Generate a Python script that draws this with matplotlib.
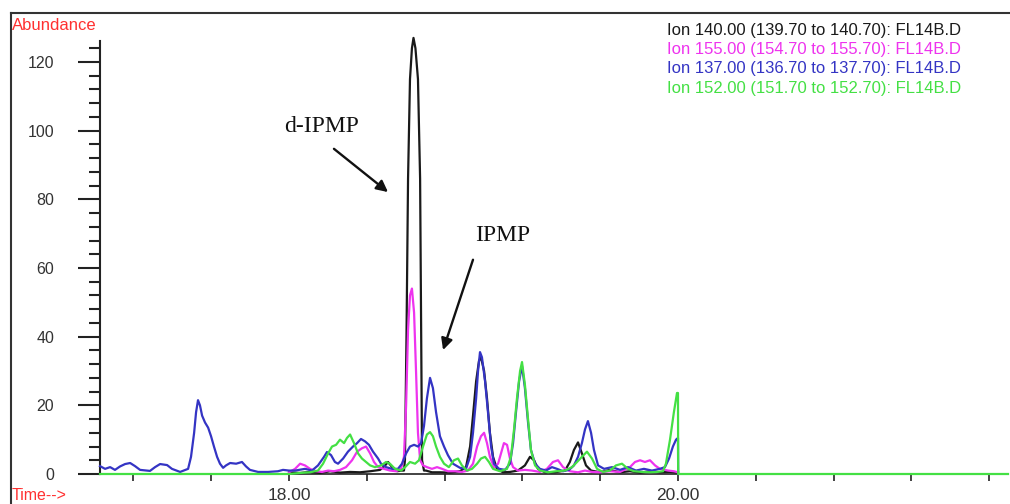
import matplotlib.pyplot as plt
from matplotlib.lines import Line2D
from matplotlib.ticker import MultipleLocator, FixedLocator

# Cromatograma de iones extraidos (FL14B.D), tiempos en minutos

# Ion 137 (azul) - empieza antes de 18 min
t137 = [17.028, 17.054, 17.080, 17.105, 17.131, 17.157, 17.183, 17.208, 17.234, 17.285,
        17.311, 17.337, 17.373, 17.398, 17.440, 17.481, 17.496, 17.512, 17.522, 17.532,
        17.542, 17.553, 17.568, 17.584, 17.599, 17.614, 17.630, 17.645, 17.661, 17.676,
        17.697, 17.728, 17.758, 17.779, 17.799, 17.841, 17.892, 17.943, 17.969, 18.000,
        18.031, 18.082, 18.118, 18.149, 18.180, 18.195, 18.216, 18.236, 18.252, 18.278,
        18.303, 18.329, 18.350, 18.370, 18.391, 18.411, 18.432, 18.458, 18.473, 18.499,
        18.530, 18.560, 18.581, 18.602, 18.622, 18.643, 18.663, 18.679, 18.694, 18.709,
        18.725, 18.740, 18.756, 18.776, 18.797, 18.817, 18.843, 18.879, 18.910, 18.931,
        18.946, 18.962, 18.972, 18.982, 18.992, 19.008, 19.023, 19.039, 19.054, 19.080,
        19.111, 19.136, 19.152, 19.167, 19.183, 19.198, 19.213, 19.229, 19.244, 19.265,
        19.290, 19.321, 19.352, 19.378, 19.409, 19.440, 19.465, 19.486, 19.506, 19.522,
        19.537, 19.553, 19.568, 19.589, 19.620, 19.661, 19.702, 19.743, 19.784, 19.825,
        19.866, 19.907, 19.933, 19.954, 19.974, 19.990, 20.000, 20.001]
i137 = [2.3, 1.5, 2.0, 1.2, 2.2, 2.9, 3.2, 2.3, 1.2, 0.9,
        2.0, 2.9, 2.6, 1.5, 0.6, 1.5, 5.0, 12.0, 18.0, 21.5,
        20.0, 17.0, 15.0, 13.5, 11.0, 8.0, 5.0, 3.0, 1.8, 2.5,
        3.2, 3.0, 3.5, 2.2, 1.2, 0.6, 0.6, 0.8, 1.2, 1.0,
        1.0, 1.5, 1.0, 2.5, 5.0, 6.4, 5.5, 3.5, 3.0, 4.5,
        6.5, 8.0, 9.0, 10.2, 9.5, 8.5, 6.5, 4.5, 3.0, 2.0,
        1.5, 1.5, 3.0, 6.0, 8.0, 8.5, 8.0, 9.0, 14.0, 22.0,
        28.0, 25.0, 18.0, 11.0, 8.0, 5.5, 3.0, 1.8, 1.5, 5.0,
        12.0, 22.0, 30.0, 35.5, 34.0, 27.0, 18.0, 8.0, 3.0, 1.5,
        1.2, 3.0, 9.0, 18.0, 27.0, 31.5, 25.0, 15.0, 7.0, 3.0,
        1.5, 1.0, 2.0, 1.5, 0.8, 1.2, 2.5, 5.0, 9.0, 13.0,
        15.4, 12.0, 7.0, 2.5, 1.5, 2.0, 1.2, 2.0, 1.0, 1.5,
        1.0, 1.5, 2.0, 4.5, 8.0, 10.0, 10.5, 0.0]

# Ion 140 (negro) - d-IPMP
t140 = [18.000, 18.057, 18.108, 18.159, 18.211, 18.262, 18.314, 18.365, 18.417, 18.468,
        18.494, 18.509, 18.530, 18.555, 18.581, 18.591, 18.596, 18.604, 18.612, 18.622,
        18.632, 18.640, 18.650, 18.663, 18.674, 18.679, 18.684, 18.694, 18.704, 18.735,
        18.776, 18.828, 18.879, 18.910, 18.931, 18.946, 18.962, 18.977, 18.987, 19.003,
        19.018, 19.033, 19.049, 19.069, 19.100, 19.136, 19.177, 19.213, 19.239, 19.260,
        19.280, 19.316, 19.368, 19.419, 19.444, 19.465, 19.486, 19.506, 19.527, 19.553,
        19.599, 19.650, 19.702, 19.753, 19.805, 19.856, 19.907, 19.959, 20.000]
i140 = [0.5, 0.3, 0.6, 0.3, 0.8, 0.4, 0.6, 0.5, 0.8, 1.2,
        2.5, 3.5, 2.0, 0.8, 1.0, 1.0, 4.0, 40.0, 86.0, 115.0,
        124.0, 127.0, 124.0, 115.0, 86.0, 45.0, 4.0, 1.0, 1.0, 0.5,
        0.5, 0.4, 0.8, 2.0, 8.0, 17.0, 27.0, 33.0, 34.0, 30.0,
        22.0, 12.0, 5.0, 1.5, 0.5, 0.6, 1.0, 2.5, 5.0, 4.0,
        1.5, 0.5, 0.5, 1.0, 3.5, 7.0, 9.2, 6.0, 2.5, 1.0,
        0.5, 1.2, 0.5, 0.8, 0.4, 0.8, 0.5, 0.6, 0.4]

# Ion 155 (magenta)
t155 = [18.000, 18.031, 18.057, 18.082, 18.108, 18.139, 18.170, 18.201, 18.231, 18.262,
        18.293, 18.324, 18.350, 18.375, 18.396, 18.417, 18.437, 18.458, 18.488, 18.519,
        18.550, 18.576, 18.591, 18.602, 18.612, 18.622, 18.632, 18.643, 18.653, 18.663,
        18.674, 18.689, 18.709, 18.735, 18.761, 18.787, 18.817, 18.853, 18.889, 18.920,
        18.946, 18.967, 18.987, 19.003, 19.018, 19.033, 19.054, 19.075, 19.090, 19.105,
        19.121, 19.136, 19.152, 19.177, 19.213, 19.249, 19.290, 19.326, 19.357, 19.383,
        19.409, 19.444, 19.486, 19.522, 19.558, 19.599, 19.650, 19.702, 19.753, 19.779,
        19.805, 19.830, 19.856, 19.882, 19.907, 19.949, 19.979, 20.000]
i155 = [0.5, 1.5, 3.0, 2.5, 1.5, 0.8, 0.6, 1.0, 0.8, 1.2,
        2.0, 4.0, 6.5, 7.5, 8.0, 6.0, 3.5, 2.0, 1.5, 1.0,
        0.8, 1.5, 5.0, 20.0, 42.0, 52.0, 54.0, 47.0, 30.0, 12.0,
        4.0, 2.5, 2.0, 1.5, 2.0, 1.5, 0.8, 0.8, 0.6, 1.0,
        3.0, 8.0, 11.0, 12.0, 9.0, 5.0, 2.0, 3.0, 6.0, 9.0,
        8.5, 4.5, 2.0, 1.0, 1.2, 1.0, 0.6, 1.5, 3.5, 4.0,
        2.0, 0.8, 0.5, 1.0, 0.6, 0.5, 0.8, 0.6, 2.0, 3.5,
        4.0, 3.5, 4.0, 2.5, 1.5, 1.0, 0.8, 0.5]

# Ion 152 (verde) - IPMP, linea base en cero fuera de 18-20 min
t152 = [17.028, 18.000, 18.057, 18.108, 18.149, 18.175, 18.201, 18.221, 18.242, 18.262,
        18.283, 18.298, 18.314, 18.334, 18.355, 18.375, 18.396, 18.417, 18.442, 18.473,
        18.499, 18.519, 18.545, 18.576, 18.597, 18.622, 18.648, 18.668, 18.689, 18.709,
        18.725, 18.740, 18.756, 18.776, 18.797, 18.822, 18.848, 18.869, 18.889, 18.915,
        18.941, 18.967, 18.987, 19.008, 19.028, 19.049, 19.085, 19.121, 19.141, 19.157,
        19.172, 19.188, 19.198, 19.213, 19.229, 19.244, 19.265, 19.290, 19.332, 19.373,
        19.419, 19.455, 19.481, 19.506, 19.532, 19.558, 19.584, 19.614, 19.650, 19.681,
        19.712, 19.743, 19.774, 19.815, 19.856, 19.892, 19.923, 19.938, 19.959, 19.979,
        19.995, 20.000, 20.001, 21.697]
i152 = [0.0, 0.0, 0.3, 0.5, 1.0, 3.0, 6.0, 8.0, 8.5, 10.0,
        9.0, 10.5, 11.5, 9.0, 6.0, 4.5, 3.5, 2.5, 2.0, 2.5,
        3.5, 3.0, 1.5, 1.0, 2.0, 3.5, 3.0, 4.0, 8.0, 11.5,
        12.2, 11.0, 8.0, 5.0, 3.0, 2.0, 4.0, 4.5, 2.5, 1.0,
        1.5, 3.0, 4.5, 5.0, 3.5, 1.5, 0.8, 1.5, 5.0, 13.0,
        22.0, 30.0, 32.6, 26.0, 16.0, 7.0, 2.5, 1.0, 0.5, 0.8,
        1.0, 2.0, 3.5, 5.0, 6.5, 4.5, 1.5, 0.6, 1.0, 2.5,
        3.0, 1.5, 0.8, 0.6, 0.5, 0.6, 0.8, 3.0, 10.0, 18.0,
        23.6, 23.6, 0.0, 0.0]

leyenda = ['Ion 140.00 (139.70 to 140.70): FL14B.D',
           'Ion 155.00 (154.70 to 155.70): FL14B.D',
           'Ion 137.00 (136.70 to 137.70): FL14B.D',
           'Ion 152.00 (151.70 to 152.70): FL14B.D']
colores = ['#1a1a1a', '#ee33ee', '#3434c4', '#44e044']

W, H = 1010, 504
fig = plt.figure(figsize=(W / 100, H / 100), dpi=100)
plt.rcParams['font.family'] = ['Liberation Sans', 'DejaVu Sans']

# ejes en pixeles: x 100..1008, y 41..474
ax = fig.add_axes([100 / W, 1 - 474 / H, 908 / W, (474 - 41) / H])
ax.set_xlim(17.028, 21.697)
ax.set_ylim(0, 126.1)

# trazas por encima de los ejes para que la linea base verde quede visible
for t, i, c in [(t140, i140, colores[0]), (t155, i155, colores[1]),
                (t137, i137, colores[2]), (t152, i152, colores[3])]:
    ax.plot(t, i, color=c, lw=1.6, clip_on=False, solid_joinstyle='round',
            zorder=3)

for s in ['top', 'right']:
    ax.spines[s].set_visible(False)
ax.spines['left'].set_color('#222222')
ax.spines['left'].set_linewidth(1.5)
ax.spines['bottom'].set_color('#222222')
ax.spines['bottom'].set_linewidth(1.2)

ax.yaxis.set_major_locator(MultipleLocator(20))
ax.yaxis.set_minor_locator(MultipleLocator(4))
ax.tick_params(axis='y', which='major', length=16, width=1.5, color='#222222',
               labelsize=11.5, labelcolor='#333333', pad=17)
ax.tick_params(axis='y', which='minor', length=8, width=1.5, color='#222222')

ax.xaxis.set_major_locator(FixedLocator([18.0, 20.0]))
ax.xaxis.set_minor_locator(FixedLocator([17.2, 17.6, 18.4, 18.8, 19.2, 19.6,
                                         20.4, 20.8, 21.2, 21.6]))
ax.xaxis.set_major_formatter(lambda v, p: f'{v:.2f}')
ax.tick_params(axis='x', which='both', length=5, width=1.2, color='#222222',
               labelsize=12.5, labelcolor='#333333', pad=5)

# anotaciones de los picos
ax.text(18.165, 101.1, 'd-IPMP', ha='center', va='center', fontsize=17,
        family='Liberation Serif', color='#111111')
ax.text(19.100, 69.6, 'IPMP', ha='center', va='center', fontsize=17,
        family='Liberation Serif', color='#111111')
ax.annotate('', xy=(18.509, 82.1), xytext=(18.231, 94.7),
            arrowprops=dict(arrowstyle='-|>', color='#111111', lw=1.7,
                            mutation_scale=17, shrinkA=0, shrinkB=0))
ax.annotate('', xy=(18.792, 36.1), xytext=(18.946, 62.4),
            arrowprops=dict(arrowstyle='-|>', color='#111111', lw=1.7,
                            mutation_scale=17, shrinkA=0, shrinkB=0))

# leyenda de iones
for k, (txt, c) in enumerate(zip(leyenda, colores)):
    fig.text(667 / W, 1 - (30 + 19.5 * k) / H, txt, color=c, fontsize=12,
             ha='left', va='center')

fig.text(12 / W, 1 - 25 / H, 'Abundance', color='#ff3030', fontsize=12,
         ha='left', va='center')
fig.text(12 / W, 1 - 495 / H, 'Time-->', color='#ff3030', fontsize=11.5,
         ha='left', va='center')

# marco
fig.add_artist(Line2D([11 / W, 1.0], [1 - 13 / H, 1 - 13 / H],
                      color='#333333', lw=1.5))
fig.add_artist(Line2D([11 / W, 11 / W], [0.0, 1 - 13 / H],
                      color='#333333', lw=1.5))

fig.savefig('out.png', dpi=100)
